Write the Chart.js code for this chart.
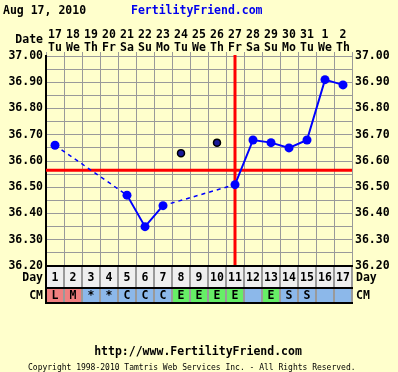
<!DOCTYPE html>
<html><head><meta charset="utf-8">
<script src="https://cdn.jsdelivr.net/npm/chart.js@4/dist/chart.umd.min.js"></script>
<style>html,body{margin:0;padding:0;background:#FFFFCC;}#wrap{width:398px;height:372px;}</style>
</head><body><div id="wrap"><canvas id="c" width="398" height="372"></canvas></div>
<script>
const cycleDays = [1,2,3,4,5,6,7,8,9,10,11,12,13,14,15,16,17];
const dates = ['17','18','19','20','21','22','23','24','25','26','27','28','29','30','31','1','2'];
const weekdays = ['Tu','We','Th','Fr','Sa','Su','Mo','Tu','We','Th','Fr','Sa','Su','Mo','Tu','We','Th'];
const temps = [36.66,null,null,null,36.47,36.35,36.43,null,null,null,36.51,36.68,36.67,36.65,36.68,36.91,36.89];
const discarded = [null,null,null,null,null,null,null,36.63,null,36.67,null,null,null,null,null,null,null];
const cmCodes = ['L','M','*','*','C','C','C','E','E','E','E','','E','S','S','',''];
const coverline = 36.565;
const ovulationDay = 11;
const tempMin = 36.20, tempMax = 37.00, tempStep = 0.05;
const headerDate = 'Aug 17, 2010';
const siteName = 'FertilityFriend.com';
const footerUrl = 'http://www.FertilityFriend.com';
const footerCopy = 'Copyright 1998-2010 Tamtris Web Services Inc. - All Rights Reserved.';

const MONO = '"DejaVu Sans Mono", "Liberation Mono", monospace';
const GRID = '#9a9a9a';
const cmColor = c => (c === 'L' || c === 'M') ? '#F08080' : (c === 'E' ? '#66EE66' : '#8CB8EA');

const tickCb = v => (Math.round(v * 100) % 10 === 0) ? v.toFixed(2) : '';

const fertilityPlugin = {
  id: 'fertility',
  beforeDatasetsDraw(chart) {
    const {ctx, chartArea: a, scales} = chart;
    ctx.save();
    ctx.strokeStyle = '#FF0000';
    ctx.lineWidth = 3;
    const yc = scales.y.getPixelForValue(coverline);
    ctx.beginPath(); ctx.moveTo(a.left, yc); ctx.lineTo(a.right, yc); ctx.stroke();
    const xo = scales.x.getPixelForValue(ovulationDay - 1);
    ctx.beginPath(); ctx.moveTo(xo, a.top - 1); ctx.lineTo(xo, a.bottom); ctx.stroke();
    ctx.restore();
  },
  afterDraw(chart) {
    const {ctx, chartArea: a, scales} = chart;
    const xs = scales.x;
    const n = cycleDays.length;
    const colW = (a.right - a.left) / n;
    ctx.save();
    // header
    ctx.font = 'bold 11.5px ' + MONO;
    ctx.textBaseline = 'middle';
    ctx.fillStyle = '#000';
    ctx.textAlign = 'left';
    ctx.fillText(headerDate, 3, 11);
    ctx.fillStyle = '#0000EE';
    ctx.fillText(siteName, 131, 11);
    ctx.fillStyle = '#000';
    ctx.textAlign = 'right';
    ctx.fillText('Date', 43, 40);

    // rows
    const r0 = a.bottom, r1 = a.bottom + 22, r2 = a.bottom + 37;
    for (let i = 0; i < n; i++) {
      const cx = xs.getPixelForValue(i);
      const l = cx - colW / 2;
      ctx.fillStyle = '#EFEFEF';
      ctx.fillRect(l, r0, colW, r1 - r0);
      ctx.fillStyle = cmColor(cmCodes[i]);
      ctx.fillRect(l, r1, colW, r2 - r1);
    }
    ctx.strokeStyle = GRID;
    ctx.lineWidth = 2;
    for (let i = 1; i < n; i++) {
      const bx = Math.round(a.left + colW * i);
      ctx.beginPath(); ctx.moveTo(bx, r0); ctx.lineTo(bx, r2); ctx.stroke();
    }
    ctx.beginPath(); ctx.moveTo(a.right, r0); ctx.lineTo(a.right, r2); ctx.stroke();
    ctx.strokeStyle = '#000';
    ctx.lineWidth = 2;
    [r0, r1, r2].forEach(yy => { ctx.beginPath(); ctx.moveTo(a.left - 1, yy); ctx.lineTo(a.right + 1, yy); ctx.stroke(); });
    ctx.beginPath(); ctx.moveTo(a.left, r0); ctx.lineTo(a.left, r2 + 1); ctx.stroke();

    ctx.fillStyle = '#000';
    ctx.font = 'bold 11.5px ' + MONO;
    ctx.textAlign = 'center';
    for (let i = 0; i < n; i++) {
      const cx = xs.getPixelForValue(i);
      ctx.fillText(String(cycleDays[i]), cx, (r0 + r1) / 2 + 1);
      if (cmCodes[i]) ctx.fillText(cmCodes[i], cx, (r1 + r2) / 2 + 0.5);
    }
    ctx.textAlign = 'right';
    ctx.fillText('Day', 43, (r0 + r1) / 2 + 1);
    ctx.fillText('CM', 43, (r1 + r2) / 2 + 0.5);
    ctx.textAlign = 'left';
    ctx.fillText('Day', 356, (r0 + r1) / 2 + 1);
    ctx.fillText('CM', 356, (r1 + r2) / 2 + 0.5);

    // footer
    ctx.textAlign = 'center';
    ctx.fillText(footerUrl, 198, 352);
    ctx.font = '8px ' + MONO;
    ctx.textAlign = 'left';
    ctx.fillText(footerCopy, 28, 368);
    ctx.restore();
  }
};

const isGap = c => temps[c.p0DataIndex] === null;

new Chart(document.getElementById('c'), {
  type: 'line',
  data: {
    labels: cycleDays,
    datasets: [
      {
        data: temps,
        yAxisID: 'y',
        borderColor: '#0000FF',
        borderWidth: 2,
        pointRadius: 4.5,
        pointBackgroundColor: '#0000FF',
        pointBorderColor: '#0000FF',
        pointBorderWidth: 0,
        spanGaps: true,
        tension: 0,
        segment: {
          borderDash: c => isGap(c) ? [4, 4] : undefined,
          borderWidth: c => isGap(c) ? 1.5 : undefined
        }
      },
      {
        data: discarded,
        yAxisID: 'y',
        showLine: false,
        pointRadius: 3.5,
        pointBackgroundColor: '#1a1a9a',
        pointBorderColor: '#000',
        pointBorderWidth: 1.5
      }
    ]
  },
  options: {
    responsive: false,
    animation: false,
    devicePixelRatio: 1,
    layout: { padding: { left: 0, right: 0, top: 0, bottom: 106 } },
    plugins: { legend: { display: false }, tooltip: { enabled: false } },
    scales: {
      x: {
        type: 'category',
        position: 'top',
        offset: true,
        grid: { offset: true, color: GRID, lineWidth: 1, tickLength: 4, drawTicks: true },
        border: { color: GRID, width: 1 },
        ticks: {
          autoSkip: false, maxRotation: 0, minRotation: 0, padding: -3,
          color: '#000',
          font: { family: MONO, size: 11.5, weight: 'bold', lineHeight: 1.13 },
          callback: (v, i) => [dates[i], weekdays[i]]
        },
        afterFit: s => { s.height = 56; }
      },
      y: {
        position: 'left',
        min: tempMin, max: tempMax,
        grid: { color: GRID, lineWidth: 1, drawTicks: false },
        border: { color: '#000', width: 2 },
        ticks: {
          stepSize: tempStep, autoSkip: false, padding: 3, color: '#000',
          font: { family: MONO, size: 11.5, weight: 'bold' },
          callback: tickCb
        },
        afterFit: s => { s.width = 46; }
      },
      y2: {
        position: 'right',
        min: tempMin, max: tempMax,
        grid: { display: false, drawTicks: false },
        border: { color: GRID, width: 1 },
        ticks: {
          stepSize: tempStep, autoSkip: false, padding: 3, color: '#000',
          font: { family: MONO, size: 11.5, weight: 'bold' },
          callback: tickCb
        },
        afterFit: s => { s.width = 46; }
      }
    }
  },
  plugins: [fertilityPlugin]
});
</script>
</body></html>
